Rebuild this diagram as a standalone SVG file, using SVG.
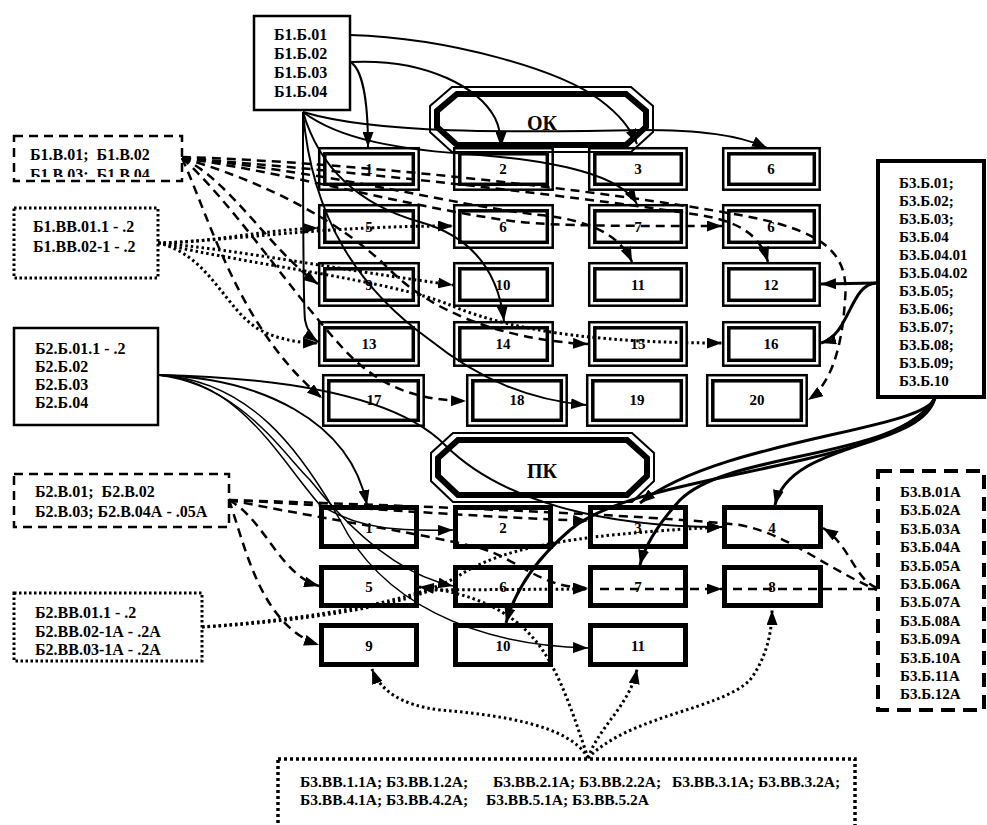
<svg xmlns="http://www.w3.org/2000/svg" width="987" height="825" viewBox="0 0 987 825">
<style>
text{font-family:"Liberation Serif","Times New Roman",serif;font-weight:bold;font-size:15px;fill:#000;white-space:pre}
.n{text-anchor:middle}
.big{font-size:20px}
.l{font-size:16px}
.bt{font-size:15.5px}
.o{fill:none;stroke:#000;stroke-width:2.5}
.i{fill:none;stroke:#000;stroke-width:3.5}
.pk{fill:#fff;stroke:#000;stroke-width:5}
.bx{fill:#fff;stroke:#000;stroke-width:2.5}
.bxd{fill:#fff;stroke:#000;stroke-width:2.5;stroke-dasharray:9 6}
.bxp{fill:#fff;stroke:#000;stroke-width:3;stroke-dasharray:2.5 2.5}
.c{fill:none;stroke:#000;stroke-width:2}
.ct{fill:none;stroke:#000;stroke-width:1.5}
.cb{fill:none;stroke:#000;stroke-width:3}
.cd{fill:none;stroke:#000;stroke-width:2.5;stroke-dasharray:9 6}
.cp{fill:none;stroke:#000;stroke-width:3;stroke-dasharray:2.5 3}
.a{marker-end:url(#ah)}
</style>
<defs>
<marker id="ah" viewBox="0 0 15 11" refX="15" refY="5.5" markerWidth="15" markerHeight="11" markerUnits="userSpaceOnUse" orient="auto"><path d="M0,0 L15,5.5 L0,11 z" fill="#000"/></marker>
<clipPath id="clipB1V"><rect x="13" y="135" width="169" height="42"/></clipPath>
</defs>
<rect width="987" height="825" fill="#fff"/>

<!-- OK grid -->
<g id="ok-header">
<path d="M452,87 L631,87 L653,106 L653,132 L631,152 L452,152 L430,132 L430,106 Z" fill="#fff" stroke="#000" stroke-width="2"/>
<path d="M457,94 L626,94 L646,111 L646,127 L626,145 L457,145 L437,127 L437,111 Z" fill="none" stroke="#000" stroke-width="6"/>
<text class="n big" x="542" y="130">ОК</text>
</g>

<g id="ok-r1c1"><rect class="o" x="319.2" y="148.2" width="99.5" height="41.5"/><rect class="i" x="324.8" y="153.8" width="88.5" height="30.5"/><text class="n" x="369" y="174">1</text></g>
<g id="ok-r1c2"><rect class="o" x="454.2" y="148.2" width="98.5" height="41.5"/><rect class="i" x="459.8" y="153.8" width="87.5" height="30.5"/><text class="n" x="503" y="174">2</text></g>
<g id="ok-r1c3"><rect class="o" x="589.2" y="148.2" width="97.5" height="41.5"/><rect class="i" x="594.8" y="153.8" width="86.5" height="30.5"/><text class="n" x="638" y="174">3</text></g>
<g id="ok-r1c4"><rect class="o" x="723.2" y="148.2" width="96.5" height="41.5"/><rect class="i" x="728.8" y="153.8" width="85.5" height="30.5"/><text class="n" x="771" y="174">6</text></g>

<g id="ok-r2c1"><rect class="o" x="319.2" y="205.2" width="99.5" height="42.5"/><rect class="i" x="324.8" y="210.8" width="88.5" height="31.5"/><text class="n" x="369" y="232">5</text></g>
<g id="ok-r2c2"><rect class="o" x="454.2" y="205.2" width="98.5" height="42.5"/><rect class="i" x="459.8" y="210.8" width="87.5" height="31.5"/><text class="n" x="503" y="232">6</text></g>
<g id="ok-r2c3"><rect class="o" x="589.2" y="205.2" width="97.5" height="42.5"/><rect class="i" x="594.8" y="210.8" width="86.5" height="31.5"/><text class="n" x="638" y="232">7</text></g>
<g id="ok-r2c4"><rect class="o" x="723.2" y="205.2" width="96.5" height="42.5"/><rect class="i" x="728.8" y="210.8" width="85.5" height="31.5"/><text class="n" x="771" y="232">6</text></g>

<g id="ok-r3c1"><rect class="o" x="319.2" y="263.2" width="99.5" height="42.5"/><rect class="i" x="324.8" y="268.8" width="88.5" height="31.5"/><text class="n" x="369" y="290">9</text></g>
<g id="ok-r3c2"><rect class="o" x="454.2" y="263.2" width="98.5" height="42.5"/><rect class="i" x="459.8" y="268.8" width="87.5" height="31.5"/><text class="n" x="503" y="290">10</text></g>
<g id="ok-r3c3"><rect class="o" x="589.2" y="263.2" width="97.5" height="42.5"/><rect class="i" x="594.8" y="268.8" width="86.5" height="31.5"/><text class="n" x="638" y="290">11</text></g>
<g id="ok-r3c4"><rect class="o" x="723.2" y="263.2" width="96.5" height="42.5"/><rect class="i" x="728.8" y="268.8" width="85.5" height="31.5"/><text class="n" x="771" y="290">12</text></g>

<g id="ok-r4c1"><rect class="o" x="319.2" y="322.2" width="99.5" height="43.5"/><rect class="i" x="324.8" y="327.8" width="88.5" height="32.5"/><text class="n" x="369" y="349">13</text></g>
<g id="ok-r4c2"><rect class="o" x="454.2" y="322.2" width="98.5" height="43.5"/><rect class="i" x="459.8" y="327.8" width="87.5" height="32.5"/><text class="n" x="503" y="349">14</text></g>
<g id="ok-r4c3"><rect class="o" x="589.2" y="322.2" width="97.5" height="43.5"/><rect class="i" x="594.8" y="327.8" width="86.5" height="32.5"/><text class="n" x="638" y="349">15</text></g>
<g id="ok-r4c4"><rect class="o" x="723.2" y="322.2" width="96.5" height="43.5"/><rect class="i" x="728.8" y="327.8" width="85.5" height="32.5"/><text class="n" x="771" y="349">16</text></g>

<g id="ok-r5c1"><rect class="o" x="323.2" y="375.2" width="100.5" height="50.5"/><rect class="i" x="328.8" y="380.8" width="89.5" height="39.5"/><text class="n" x="374" y="405">17</text></g>
<g id="ok-r5c2"><rect class="o" x="467.2" y="375.2" width="99.5" height="50.5"/><rect class="i" x="472.8" y="380.8" width="88.5" height="39.5"/><text class="n" x="517" y="405">18</text></g>
<g id="ok-r5c3"><rect class="o" x="587.2" y="375.2" width="99.5" height="50.5"/><rect class="i" x="592.8" y="380.8" width="88.5" height="39.5"/><text class="n" x="637" y="405">19</text></g>
<g id="ok-r5c4"><rect class="o" x="707.2" y="375.2" width="99.5" height="50.5"/><rect class="i" x="712.8" y="380.8" width="88.5" height="39.5"/><text class="n" x="757" y="405">20</text></g>

<!-- PK grid -->
<g id="pk-header">
<path d="M453,433 L632,433 L654,453 L654,481 L632,502 L453,502 L431,481 L431,453 Z" fill="#fff" stroke="#000" stroke-width="2"/>
<path d="M458,440 L627,440 L647,458 L647,476 L627,495 L458,495 L438,476 L438,458 Z" fill="none" stroke="#000" stroke-width="6"/>
<text class="n big" x="542" y="478">ПК</text>
</g>
<g id="pk-1"><rect class="pk" x="321.5" y="507.5" width="95" height="39"/><text class="n" x="369" y="533">1</text></g>
<g id="pk-2"><rect class="pk" x="455.5" y="507.5" width="95" height="39"/><text class="n" x="503" y="533">2</text></g>
<g id="pk-3"><rect class="pk" x="590.5" y="507.5" width="95" height="39"/><text class="n" x="638" y="533">3</text></g>
<g id="pk-4"><rect class="pk" x="724.5" y="507.5" width="96" height="39"/><text class="n" x="772" y="533">4</text></g>
<g id="pk-5"><rect class="pk" x="321.5" y="567.5" width="95" height="38"/><text class="n" x="369" y="592">5</text></g>
<g id="pk-6"><rect class="pk" x="455.5" y="567.5" width="95" height="38"/><text class="n" x="503" y="592">6</text></g>
<g id="pk-7"><rect class="pk" x="590.5" y="567.5" width="95" height="38"/><text class="n" x="638" y="592">7</text></g>
<g id="pk-8"><rect class="pk" x="724.5" y="567.5" width="96" height="38"/><text class="n" x="772" y="592">8</text></g>
<g id="pk-9"><rect class="pk" x="321.5" y="625.5" width="95" height="39"/><text class="n" x="369" y="651">9</text></g>
<g id="pk-10"><rect class="pk" x="455.5" y="625.5" width="95" height="39"/><text class="n" x="503" y="651">10</text></g>
<g id="pk-11"><rect class="pk" x="590.5" y="625.5" width="95" height="39"/><text class="n" x="638" y="651">11</text></g>

<!-- source boxes -->
<g id="b1b"><rect class="bx" x="254" y="16" width="96" height="94"/>
<text class="l" x="274" y="40">Б1.Б.01</text><text class="l" x="274" y="59">Б1.Б.02</text><text class="l" x="274" y="78">Б1.Б.03</text><text class="l" x="274" y="97">Б1.Б.04</text></g>

<g id="b1v"><rect class="bxd" x="14" y="136" width="168" height="45"/>
<g clip-path="url(#clipB1V)"><text class="l" x="30" y="160">Б1.В.01;  Б1.В.02</text><text class="l" x="30" y="180">Б1.В.03;  Б1.В.04</text></g></g>

<g id="b1vv"><rect class="bxp" x="14" y="208" width="144" height="70"/>
<text class="l" x="33" y="232">Б1.ВВ.01.1 - .2</text><text class="l" x="33" y="252">Б1.ВВ.02-1 - .2</text></g>

<g id="b2b"><rect class="bx" x="14" y="328" width="144" height="97"/>
<text class="l" x="35" y="354">Б2.Б.01.1 - .2</text><text class="l" x="35" y="372">Б2.Б.02</text><text class="l" x="35" y="390">Б2.Б.03</text><text class="l" x="35" y="408">Б2.Б.04</text></g>

<g id="b2v"><rect class="bxd" x="14" y="474" width="215" height="53"/>
<text class="l" x="35" y="497">Б2.В.01;  Б2.В.02</text><text class="l" x="35" y="517">Б2.В.03; Б2.В.04А - .05А</text></g>

<g id="b2vv"><rect class="bxp" x="14" y="593" width="188" height="68"/>
<text class="l" x="35" y="618">Б2.ВВ.01.1 - .2</text><text class="l" x="35" y="637">Б2.ВВ.02-1А - .2А</text><text class="l" x="35" y="655">Б2.ВВ.03-1А - .2А</text></g>

<g id="b3b"><rect x="878" y="161" width="106" height="236" fill="#fff" stroke="#000" stroke-width="4"/>
<text x="899" y="188">Б3.Б.01;</text><text x="899" y="206">Б3.Б.02;</text><text x="899" y="224">Б3.Б.03;</text><text x="899" y="242">Б3.Б.04</text><text x="899" y="260">Б3.Б.04.01</text><text x="899" y="278">Б3.Б.04.02</text><text x="899" y="296">Б3.Б.05;</text><text x="899" y="314">Б3.Б.06;</text><text x="899" y="332">Б3.Б.07;</text><text x="899" y="350">Б3.Б.08;</text><text x="899" y="368">Б3.Б.09;</text><text x="899" y="386">Б3.Б.10</text></g>

<g id="b3v"><rect x="878" y="471" width="106" height="239" fill="#fff" stroke="#000" stroke-width="4" stroke-dasharray="14 8"/>
<text x="900" y="497">Б3.В.01А</text><text x="900" y="515">Б3.Б.02А</text><text x="900" y="534">Б3.Б.03А</text><text x="900" y="552">Б3.Б.04А</text><text x="900" y="571">Б3.Б.05А</text><text x="900" y="589">Б3.Б.06А</text><text x="900" y="607">Б3.Б.07А</text><text x="900" y="626">Б3.Б.08А</text><text x="900" y="644">Б3.Б.09А</text><text x="900" y="663">Б3.Б.10А</text><text x="900" y="681">Б3.Б.11А</text><text x="900" y="699">Б3.Б.12А</text></g>

<g id="b3vv"><rect x="278" y="759" width="577" height="100" fill="#fff" stroke="#000" stroke-width="3.5" stroke-dasharray="3 3"/>
<text class="bt" x="300" y="787">Б3.ВВ.1.1А; Б3.ВВ.1.2А;</text><text class="bt" x="493" y="787">Б3.ВВ.2.1А; Б3.ВВ.2.2А;</text><text class="bt" x="672" y="787">Б3.ВВ.3.1А; Б3.ВВ.3.2А;</text>
<text class="bt" x="300" y="805">Б3.ВВ.4.1А; Б3.ВВ.4.2А;</text><text class="bt" x="486" y="805">Б3.ВВ.5.1А; Б3.ВВ.5.2А</text></g>

<g id="connectors">
<!-- from Б1.Б -->
<path class="c a" d="M350,62 C362,68 368,100 368,147"/>
<path class="c a" d="M350,62 C430,58 480,90 495,118 C500,128 501,138 501,147"/>
<path class="c a" d="M350,35 C450,38 560,70 600,100 C620,115 630,128 637,144"/>
<path class="c a" d="M303,112 C380,135 520,132 640,130 C700,130 740,135 767,148"/>
<path class="c a" d="M303,112 C340,140 400,150 480,155 C560,162 620,175 637,204"/>
<path class="c a" d="M303,112 C320,170 360,205 420,222 C470,236 498,270 504,321"/>
<path class="c a" d="M303,112 C312,220 360,290 430,340 C480,380 530,400 586,405"/>
<path class="c a" d="M303,112 C303,200 303,300 305,320 C307,330 311,337 318,342"/>
<!-- from Б1.В -->
<path class="cd a" d="M182,157 C350,162 600,190 740,215 C820,230 850,250 845,300 C842,350 830,385 808,400"/>
<path class="cd a" d="M182,158 C400,175 600,200 700,215 C740,222 760,235 768,262"/>
<path class="cd a" d="M182,158 C350,175 450,205 540,215 C590,220 620,235 632,262"/>
<path class="cd a" d="M182,158 C300,175 420,210 520,222 C560,226 620,226 722,226"/>
<path class="cd a" d="M182,158 C230,180 270,250 318,284"/>
<path class="cd a" d="M182,158 C210,220 240,330 322,398"/>
<path class="cd a" d="M182,158 C230,200 290,290 340,345 C380,390 420,400 466,401"/>
<path class="cd a" d="M182,158 C260,180 340,220 390,270 C430,310 500,340 588,344"/>
<!-- from Б1.ВВ -->
<path class="cp a" d="M158,243 C210,243 260,230 318,228"/>
<path class="cp a" d="M158,243 C240,240 320,226 453,226"/>
<path class="cp a" d="M158,243 C240,250 340,270 453,285"/>
<path class="cp a" d="M158,243 C250,265 390,280 450,305 C520,335 620,343 722,343"/>
<path class="cp a" d="M158,243 C210,255 225,310 260,330 C280,340 300,343 318,343"/>
<!-- from Б3.Б -->
<path class="cb a" d="M877,283 L821,284"/>
<path class="cb a" d="M877,283 C850,283 850,335 821,343"/>
<path class="cb a" d="M935,398 C925,430 720,440 640,503"/>
<path class="cb a" d="M935,398 C920,450 790,440 775,505"/>
<path class="cb a" d="M935,398 C900,460 730,450 680,500 C660,522 645,545 640,565"/>
<path class="cb a" d="M935,398 C895,470 640,470 570,530 C535,560 515,590 506,623"/>
<!-- from Б2.Б -->
<path class="c a" d="M158,375 C260,378 350,420 367,505"/>
<path class="ct a" d="M158,375 C240,380 280,460 320,505 C360,530 400,531 453,530"/>
<path class="c a" d="M158,375 C300,378 400,400 445,445 C500,500 600,527 722,527"/>
<path class="ct a" d="M158,375 C250,380 300,450 340,520 C380,600 470,645 588,648"/>
<path class="ct a" d="M158,375 C240,385 280,450 310,480 C350,530 400,575 453,586"/>
<!-- from Б2.В -->
<path class="cd a" d="M229,500 C300,503 420,514 588,521"/>
<path class="cd" d="M229,500 C400,505 650,515 740,525 C790,535 820,565 877,590"/>
<path class="cd a" d="M229,500 C265,520 280,575 319,586"/>
<path class="cd a" d="M229,500 C245,545 260,625 319,645"/>
<path class="cd a" d="M229,500 C330,520 430,535 480,548 C520,560 540,588 588,588"/>
<path class="cd a" d="M600,589 L722,589"/>
<!-- from Б3.В -->
<path class="cd" d="M877,589 L730,589"/>
<path class="cd a" d="M877,588 C855,580 850,545 823,528"/>
<!-- from Б2.ВВ -->
<path class="cp a" d="M202,627 C320,618 420,600 460,575 C500,550 560,535 722,527"/>
<path class="cp a" d="M202,627 C300,622 400,605 430,590 L588,589"/>
<!-- from Б3.ВВ -->
<path class="cp a" d="M588,758 C570,725 500,715 440,710 C400,705 380,690 372,669"/>
<path class="cp a" d="M588,758 C600,725 630,705 637,669"/>
<path class="cp a" d="M588,758 C630,715 720,710 750,680 C765,660 772,635 772,610"/>
<path class="cp a" d="M588,758 C575,720 560,670 535,640 C510,610 470,592 419,587"/>
</g>
</svg>
